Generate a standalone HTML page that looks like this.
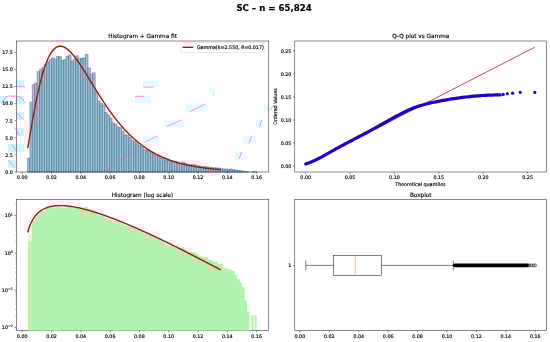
<!DOCTYPE html>
<html><head><meta charset="utf-8"><title>SC – n = 65,824</title>
<style>html,body{margin:0;padding:0;background:#fff;overflow:hidden}svg text{fill:#000;stroke:#000;stroke-width:0.15px}</style></head>
<body>
<svg width="550" height="342" viewBox="0 0 550 342" style="display:block">
<rect width="550" height="342" fill="#fff"/>
<text x="274.0" y="10.7" font-size="8.6" font-weight="bold" text-anchor="middle" font-family="DejaVu Sans, Liberation Sans, sans-serif">SC – n = 65,824</text>
<g id="ax1">
<g fill="#a4cfe4" stroke="#144664" stroke-opacity="0.38" stroke-width="1.3">
<rect x="27.61" y="158.34" width="2.41" height="13.66"/>
<rect x="30.02" y="102.33" width="2.41" height="69.67"/>
<rect x="32.43" y="84.58" width="2.41" height="87.42"/>
<rect x="34.84" y="83.21" width="2.41" height="88.79"/>
<rect x="37.25" y="71.60" width="2.41" height="100.40"/>
<rect x="39.66" y="69.55" width="2.41" height="102.45"/>
<rect x="42.07" y="67.50" width="2.41" height="104.50"/>
<rect x="44.48" y="64.77" width="2.41" height="107.23"/>
<rect x="46.89" y="62.04" width="2.41" height="109.96"/>
<rect x="49.30" y="59.65" width="2.41" height="112.35"/>
<rect x="51.71" y="57.94" width="2.41" height="114.06"/>
<rect x="54.12" y="59.30" width="2.41" height="112.70"/>
<rect x="56.53" y="56.57" width="2.41" height="115.43"/>
<rect x="58.94" y="56.91" width="2.41" height="115.09"/>
<rect x="61.35" y="60.67" width="2.41" height="111.33"/>
<rect x="63.76" y="59.65" width="2.41" height="112.35"/>
<rect x="66.17" y="56.57" width="2.41" height="115.43"/>
<rect x="68.58" y="55.21" width="2.41" height="116.79"/>
<rect x="70.99" y="61.35" width="2.41" height="110.65"/>
<rect x="73.40" y="59.30" width="2.41" height="112.70"/>
<rect x="75.82" y="55.89" width="2.41" height="116.11"/>
<rect x="78.23" y="58.62" width="2.41" height="113.38"/>
<rect x="80.64" y="58.62" width="2.41" height="113.38"/>
<rect x="83.05" y="57.94" width="2.41" height="114.06"/>
<rect x="85.46" y="54.52" width="2.41" height="117.48"/>
<rect x="87.87" y="68.18" width="2.41" height="103.82"/>
<rect x="90.28" y="74.33" width="2.41" height="97.67"/>
<rect x="92.69" y="72.97" width="2.41" height="99.03"/>
<rect x="95.10" y="92.09" width="2.41" height="79.91"/>
<rect x="97.51" y="101.31" width="2.41" height="70.69"/>
<rect x="99.92" y="103.44" width="2.41" height="68.56"/>
<rect x="102.33" y="105.30" width="2.41" height="66.70"/>
<rect x="104.74" y="112.66" width="2.41" height="59.34"/>
<rect x="107.15" y="115.07" width="2.41" height="56.93"/>
<rect x="109.56" y="118.33" width="2.41" height="53.67"/>
<rect x="111.97" y="122.94" width="2.41" height="49.06"/>
<rect x="114.38" y="124.23" width="2.41" height="47.77"/>
<rect x="116.79" y="127.04" width="2.41" height="44.96"/>
<rect x="119.20" y="127.79" width="2.41" height="44.21"/>
<rect x="121.61" y="131.41" width="2.41" height="40.59"/>
<rect x="124.02" y="134.97" width="2.41" height="37.03"/>
<rect x="126.43" y="135.57" width="2.41" height="36.43"/>
<rect x="128.85" y="137.57" width="2.41" height="34.43"/>
<rect x="131.26" y="140.60" width="2.41" height="31.40"/>
<rect x="133.67" y="141.87" width="2.41" height="30.13"/>
<rect x="136.08" y="143.77" width="2.41" height="28.23"/>
<rect x="138.49" y="145.72" width="2.41" height="26.28"/>
<rect x="140.90" y="146.97" width="2.41" height="25.03"/>
<rect x="143.31" y="149.66" width="2.41" height="22.34"/>
<rect x="145.72" y="150.26" width="2.41" height="21.74"/>
<rect x="148.13" y="151.17" width="2.41" height="20.83"/>
<rect x="150.54" y="152.62" width="2.41" height="19.38"/>
<rect x="152.95" y="153.84" width="2.41" height="18.16"/>
<rect x="155.36" y="155.06" width="2.41" height="16.94"/>
<rect x="157.77" y="156.10" width="2.41" height="15.90"/>
<rect x="160.18" y="157.94" width="2.41" height="14.06"/>
<rect x="162.59" y="158.38" width="2.41" height="13.62"/>
<rect x="165.00" y="160.00" width="2.41" height="12.00"/>
<rect x="167.41" y="160.55" width="2.41" height="11.45"/>
<rect x="169.82" y="161.64" width="2.41" height="10.36"/>
<rect x="172.23" y="161.56" width="2.41" height="10.44"/>
<rect x="174.64" y="161.52" width="2.41" height="10.48"/>
<rect x="177.05" y="163.02" width="2.41" height="8.98"/>
<rect x="179.47" y="163.13" width="2.41" height="8.87"/>
<rect x="181.88" y="162.23" width="2.41" height="9.77"/>
<rect x="184.29" y="163.41" width="2.41" height="8.59"/>
<rect x="186.70" y="164.88" width="2.41" height="7.12"/>
<rect x="189.11" y="164.72" width="2.41" height="7.28"/>
<rect x="191.52" y="164.85" width="2.41" height="7.15"/>
<rect x="193.93" y="165.00" width="2.41" height="7.00"/>
<rect x="196.34" y="165.77" width="2.41" height="6.23"/>
<rect x="198.75" y="166.33" width="2.41" height="5.67"/>
<rect x="201.16" y="166.71" width="2.41" height="5.29"/>
<rect x="203.57" y="166.63" width="2.41" height="5.37"/>
<rect x="205.98" y="167.03" width="2.41" height="4.97"/>
<rect x="208.39" y="167.51" width="2.41" height="4.49"/>
<rect x="210.80" y="167.70" width="2.41" height="4.30"/>
<rect x="213.21" y="168.00" width="2.41" height="4.00"/>
<rect x="215.62" y="168.03" width="2.41" height="3.97"/>
<rect x="218.03" y="168.51" width="2.41" height="3.49"/>
<rect x="220.44" y="168.53" width="2.41" height="3.47"/>
<rect x="222.85" y="169.23" width="2.41" height="2.77"/>
<rect x="225.26" y="169.40" width="2.41" height="2.60"/>
<rect x="227.67" y="169.54" width="2.41" height="2.46"/>
<rect x="230.08" y="169.67" width="2.41" height="2.33"/>
<rect x="232.50" y="169.79" width="2.41" height="2.21"/>
<rect x="234.91" y="170.24" width="2.41" height="1.76"/>
<rect x="237.32" y="170.66" width="2.41" height="1.34"/>
<rect x="239.73" y="170.91" width="2.41" height="1.09"/>
<rect x="242.14" y="171.19" width="2.41" height="0.81"/>
<rect x="244.55" y="171.64" width="2.41" height="0.36"/>
<rect x="246.96" y="171.82" width="2.41" height="0.18"/>
<rect x="251.78" y="171.85" width="2.41" height="0.15"/>
<rect x="254.19" y="171.85" width="2.41" height="0.15"/>
</g>
<g>
<rect x="24" y="120" width="8" height="8" fill="rgb(19,0,0)" style="mix-blend-mode:plus-lighter"/>
<rect x="24" y="120" width="8" height="8" fill="rgb(255,245,251)" style="mix-blend-mode:multiply"/>
<rect x="24" y="128" width="8" height="8" fill="rgb(33,0,0)" style="mix-blend-mode:plus-lighter"/>
<rect x="24" y="128" width="8" height="8" fill="rgb(255,237,247)" style="mix-blend-mode:multiply"/>
<rect x="24" y="136" width="8" height="8" fill="rgb(33,0,0)" style="mix-blend-mode:plus-lighter"/>
<rect x="24" y="136" width="8" height="8" fill="rgb(255,237,247)" style="mix-blend-mode:multiply"/>
<rect x="24" y="144" width="8" height="8" fill="rgb(17,0,0)" style="mix-blend-mode:plus-lighter"/>
<rect x="24" y="144" width="8" height="8" fill="rgb(255,246,251)" style="mix-blend-mode:multiply"/>
<rect x="32" y="80" width="8" height="8" fill="rgb(18,0,0)" style="mix-blend-mode:plus-lighter"/>
<rect x="32" y="80" width="8" height="8" fill="rgb(255,245,251)" style="mix-blend-mode:multiply"/>
<rect x="32" y="88" width="8" height="8" fill="rgb(33,0,0)" style="mix-blend-mode:plus-lighter"/>
<rect x="32" y="88" width="8" height="8" fill="rgb(255,237,247)" style="mix-blend-mode:multiply"/>
<rect x="32" y="96" width="8" height="8" fill="rgb(33,0,0)" style="mix-blend-mode:plus-lighter"/>
<rect x="32" y="96" width="8" height="8" fill="rgb(255,237,247)" style="mix-blend-mode:multiply"/>
<rect x="32" y="104" width="8" height="8" fill="rgb(34,0,0)" style="mix-blend-mode:plus-lighter"/>
<rect x="32" y="104" width="8" height="8" fill="rgb(255,236,247)" style="mix-blend-mode:multiply"/>
<rect x="32" y="112" width="8" height="8" fill="rgb(33,0,0)" style="mix-blend-mode:plus-lighter"/>
<rect x="32" y="112" width="8" height="8" fill="rgb(255,237,247)" style="mix-blend-mode:multiply"/>
<rect x="32" y="120" width="8" height="8" fill="rgb(14,0,0)" style="mix-blend-mode:plus-lighter"/>
<rect x="32" y="120" width="8" height="8" fill="rgb(255,247,252)" style="mix-blend-mode:multiply"/>
<rect x="40" y="56" width="8" height="8" fill="rgb(24,0,0)" style="mix-blend-mode:plus-lighter"/>
<rect x="40" y="56" width="8" height="8" fill="rgb(255,242,249)" style="mix-blend-mode:multiply"/>
<rect x="40" y="64" width="8" height="8" fill="rgb(34,0,0)" style="mix-blend-mode:plus-lighter"/>
<rect x="40" y="64" width="8" height="8" fill="rgb(255,236,247)" style="mix-blend-mode:multiply"/>
<rect x="40" y="72" width="8" height="8" fill="rgb(35,0,0)" style="mix-blend-mode:plus-lighter"/>
<rect x="40" y="72" width="8" height="8" fill="rgb(255,236,247)" style="mix-blend-mode:multiply"/>
<rect x="40" y="80" width="8" height="8" fill="rgb(15,0,0)" style="mix-blend-mode:plus-lighter"/>
<rect x="40" y="80" width="8" height="8" fill="rgb(255,247,251)" style="mix-blend-mode:multiply"/>
<rect x="48" y="40" width="8" height="8" fill="rgb(4,0,0)" style="mix-blend-mode:plus-lighter"/>
<rect x="48" y="40" width="8" height="8" fill="rgb(255,253,254)" style="mix-blend-mode:multiply"/>
<rect x="48" y="48" width="8" height="8" fill="rgb(38,0,0)" style="mix-blend-mode:plus-lighter"/>
<rect x="48" y="48" width="8" height="8" fill="rgb(255,234,246)" style="mix-blend-mode:multiply"/>
<rect x="48" y="56" width="8" height="8" fill="rgb(12,0,0)" style="mix-blend-mode:plus-lighter"/>
<rect x="48" y="56" width="8" height="8" fill="rgb(255,248,252)" style="mix-blend-mode:multiply"/>
<rect x="56" y="40" width="8" height="8" fill="rgb(34,0,0)" style="mix-blend-mode:plus-lighter"/>
<rect x="56" y="40" width="8" height="8" fill="rgb(255,236,247)" style="mix-blend-mode:multiply"/>
<rect x="64" y="40" width="8" height="8" fill="rgb(8,0,0)" style="mix-blend-mode:plus-lighter"/>
<rect x="64" y="40" width="8" height="8" fill="rgb(255,251,253)" style="mix-blend-mode:multiply"/>
<rect x="64" y="48" width="8" height="8" fill="rgb(35,0,0)" style="mix-blend-mode:plus-lighter"/>
<rect x="64" y="48" width="8" height="8" fill="rgb(255,236,247)" style="mix-blend-mode:multiply"/>
<rect x="72" y="48" width="8" height="8" fill="rgb(12,0,0)" style="mix-blend-mode:plus-lighter"/>
<rect x="72" y="48" width="8" height="8" fill="rgb(255,249,252)" style="mix-blend-mode:multiply"/>
<rect x="72" y="56" width="8" height="8" fill="rgb(38,0,0)" style="mix-blend-mode:plus-lighter"/>
<rect x="72" y="56" width="8" height="8" fill="rgb(255,234,246)" style="mix-blend-mode:multiply"/>
<rect x="80" y="64" width="8" height="8" fill="rgb(36,0,0)" style="mix-blend-mode:plus-lighter"/>
<rect x="80" y="64" width="8" height="8" fill="rgb(255,235,246)" style="mix-blend-mode:multiply"/>
<rect x="80" y="72" width="8" height="8" fill="rgb(24,0,0)" style="mix-blend-mode:plus-lighter"/>
<rect x="80" y="72" width="8" height="8" fill="rgb(255,242,249)" style="mix-blend-mode:multiply"/>
<rect x="88" y="72" width="8" height="8" fill="rgb(15,0,0)" style="mix-blend-mode:plus-lighter"/>
<rect x="88" y="72" width="8" height="8" fill="rgb(255,247,251)" style="mix-blend-mode:multiply"/>
<rect x="88" y="80" width="8" height="8" fill="rgb(38,0,0)" style="mix-blend-mode:plus-lighter"/>
<rect x="88" y="80" width="8" height="8" fill="rgb(255,234,246)" style="mix-blend-mode:multiply"/>
<rect x="88" y="88" width="8" height="8" fill="rgb(10,0,0)" style="mix-blend-mode:plus-lighter"/>
<rect x="88" y="88" width="8" height="8" fill="rgb(255,249,253)" style="mix-blend-mode:multiply"/>
<rect x="96" y="88" width="8" height="8" fill="rgb(28,0,0)" style="mix-blend-mode:plus-lighter"/>
<rect x="96" y="88" width="8" height="8" fill="rgb(255,239,248)" style="mix-blend-mode:multiply"/>
<rect x="96" y="96" width="8" height="8" fill="rgb(33,0,0)" style="mix-blend-mode:plus-lighter"/>
<rect x="96" y="96" width="8" height="8" fill="rgb(255,237,247)" style="mix-blend-mode:multiply"/>
<rect x="104" y="96" width="8" height="8" fill="rgb(6,0,0)" style="mix-blend-mode:plus-lighter"/>
<rect x="104" y="96" width="8" height="8" fill="rgb(255,252,254)" style="mix-blend-mode:multiply"/>
<rect x="104" y="104" width="8" height="8" fill="rgb(38,0,0)" style="mix-blend-mode:plus-lighter"/>
<rect x="104" y="104" width="8" height="8" fill="rgb(255,234,246)" style="mix-blend-mode:multiply"/>
<rect x="104" y="112" width="8" height="8" fill="rgb(10,0,0)" style="mix-blend-mode:plus-lighter"/>
<rect x="104" y="112" width="8" height="8" fill="rgb(255,249,253)" style="mix-blend-mode:multiply"/>
<rect x="112" y="112" width="8" height="8" fill="rgb(30,0,0)" style="mix-blend-mode:plus-lighter"/>
<rect x="112" y="112" width="8" height="8" fill="rgb(255,238,248)" style="mix-blend-mode:multiply"/>
<rect x="112" y="120" width="8" height="8" fill="rgb(23,0,0)" style="mix-blend-mode:plus-lighter"/>
<rect x="112" y="120" width="8" height="8" fill="rgb(255,242,250)" style="mix-blend-mode:multiply"/>
<rect x="120" y="120" width="8" height="8" fill="rgb(21,0,0)" style="mix-blend-mode:plus-lighter"/>
<rect x="120" y="120" width="8" height="8" fill="rgb(255,244,250)" style="mix-blend-mode:multiply"/>
<rect x="120" y="128" width="8" height="8" fill="rgb(27,0,0)" style="mix-blend-mode:plus-lighter"/>
<rect x="120" y="128" width="8" height="8" fill="rgb(255,240,249)" style="mix-blend-mode:multiply"/>
<rect x="128" y="128" width="8" height="8" fill="rgb(18,0,0)" style="mix-blend-mode:plus-lighter"/>
<rect x="128" y="128" width="8" height="8" fill="rgb(255,245,251)" style="mix-blend-mode:multiply"/>
<rect x="128" y="136" width="8" height="8" fill="rgb(27,0,0)" style="mix-blend-mode:plus-lighter"/>
<rect x="128" y="136" width="8" height="8" fill="rgb(255,240,249)" style="mix-blend-mode:multiply"/>
<rect x="136" y="136" width="8" height="8" fill="rgb(23,0,0)" style="mix-blend-mode:plus-lighter"/>
<rect x="136" y="136" width="8" height="8" fill="rgb(255,242,250)" style="mix-blend-mode:multiply"/>
<rect x="136" y="144" width="8" height="8" fill="rgb(18,0,0)" style="mix-blend-mode:plus-lighter"/>
<rect x="136" y="144" width="8" height="8" fill="rgb(255,245,251)" style="mix-blend-mode:multiply"/>
<rect x="144" y="144" width="8" height="8" fill="rgb(38,0,0)" style="mix-blend-mode:plus-lighter"/>
<rect x="144" y="144" width="8" height="8" fill="rgb(255,234,246)" style="mix-blend-mode:multiply"/>
<rect x="152" y="152" width="8" height="8" fill="rgb(36,0,0)" style="mix-blend-mode:plus-lighter"/>
<rect x="152" y="152" width="8" height="8" fill="rgb(255,235,247)" style="mix-blend-mode:multiply"/>
<rect x="160" y="152" width="8" height="8" fill="rgb(36,0,0)" style="mix-blend-mode:plus-lighter"/>
<rect x="160" y="152" width="8" height="8" fill="rgb(255,235,246)" style="mix-blend-mode:multiply"/>
<rect x="168" y="152" width="8" height="8" fill="rgb(6,0,0)" style="mix-blend-mode:plus-lighter"/>
<rect x="168" y="152" width="8" height="8" fill="rgb(255,252,254)" style="mix-blend-mode:multiply"/>
<rect x="168" y="160" width="8" height="8" fill="rgb(28,0,0)" style="mix-blend-mode:plus-lighter"/>
<rect x="168" y="160" width="8" height="8" fill="rgb(255,240,248)" style="mix-blend-mode:multiply"/>
<rect x="176" y="160" width="8" height="8" fill="rgb(34,0,0)" style="mix-blend-mode:plus-lighter"/>
<rect x="176" y="160" width="8" height="8" fill="rgb(255,236,247)" style="mix-blend-mode:multiply"/>
<rect x="184" y="160" width="8" height="8" fill="rgb(32,0,0)" style="mix-blend-mode:plus-lighter"/>
<rect x="184" y="160" width="8" height="8" fill="rgb(255,237,247)" style="mix-blend-mode:multiply"/>
<rect x="192" y="160" width="8" height="8" fill="rgb(34,0,0)" style="mix-blend-mode:plus-lighter"/>
<rect x="192" y="160" width="8" height="8" fill="rgb(255,236,247)" style="mix-blend-mode:multiply"/>
<rect x="200" y="160" width="8" height="8" fill="rgb(20,0,0)" style="mix-blend-mode:plus-lighter"/>
<rect x="200" y="160" width="8" height="8" fill="rgb(255,244,250)" style="mix-blend-mode:multiply"/>
<rect x="200" y="168" width="8" height="8" fill="rgb(12,0,0)" style="mix-blend-mode:plus-lighter"/>
<rect x="200" y="168" width="8" height="8" fill="rgb(255,248,252)" style="mix-blend-mode:multiply"/>
<rect x="208" y="168" width="8" height="8" fill="rgb(34,0,0)" style="mix-blend-mode:plus-lighter"/>
<rect x="208" y="168" width="8" height="8" fill="rgb(255,236,247)" style="mix-blend-mode:multiply"/>
<rect x="216" y="168" width="8" height="8" fill="rgb(20,0,0)" style="mix-blend-mode:plus-lighter"/>
<rect x="216" y="168" width="8" height="8" fill="rgb(255,244,250)" style="mix-blend-mode:multiply"/>
</g>
<polyline points="27.77,148.01 28.74,142.42 29.71,136.76 30.68,131.10 31.65,125.50 32.62,119.98 33.59,114.60 34.56,109.37 35.53,104.31 36.50,99.44 37.47,94.78 38.44,90.33 39.41,86.11 40.38,82.11 41.35,78.34 42.32,74.80 43.29,71.48 44.26,68.40 45.23,65.54 46.20,62.90 47.17,60.49 48.14,58.28 49.11,56.28 50.08,54.48 51.05,52.88 52.02,51.47 52.99,50.25 53.96,49.20 54.94,48.32 55.91,47.60 56.88,47.04 57.85,46.63 58.82,46.36 59.79,46.23 60.76,46.23 61.73,46.35 62.70,46.59 63.67,46.94 64.64,47.39 65.61,47.95 66.58,48.59 67.55,49.33 68.52,50.14 69.49,51.04 70.46,52.00 71.43,53.04 72.40,54.13 73.37,55.28 74.34,56.49 75.31,57.74 76.28,59.04 77.25,60.38 78.22,61.76 79.19,63.17 80.16,64.61 81.13,66.08 82.10,67.57 83.07,69.08 84.04,70.61 85.01,72.16 85.98,73.71 86.95,75.28 87.92,76.86 88.90,78.44 89.87,80.03 90.84,81.62 91.81,83.21 92.78,84.80 93.75,86.38 94.72,87.96 95.69,89.53 96.66,91.10 97.63,92.65 98.60,94.20 99.57,95.73 100.54,97.26 101.51,98.77 102.48,100.26 103.45,101.75 104.42,103.21 105.39,104.66 106.36,106.10 107.33,107.51 108.30,108.91 109.27,110.29 110.24,111.65 111.21,113.00 112.18,114.32 113.15,115.62 114.12,116.91 115.09,118.17 116.06,119.42 117.03,120.64 118.00,121.85 118.97,123.03 119.94,124.19 120.91,125.33 121.88,126.46 122.86,127.56 123.83,128.64 124.80,129.70 125.77,130.74 126.74,131.76 127.71,132.76 128.68,133.74 129.65,134.70 130.62,135.64 131.59,136.56 132.56,137.47 133.53,138.35 134.50,139.22 135.47,140.06 136.44,140.89 137.41,141.70 138.38,142.49 139.35,143.27 140.32,144.02 141.29,144.76 142.26,145.49 143.23,146.19 144.20,146.89 145.17,147.56 146.14,148.22 147.11,148.86 148.08,149.49 149.05,150.10 150.02,150.70 150.99,151.28 151.96,151.85 152.93,152.41 153.90,152.95 154.87,153.48 155.84,153.99 156.82,154.49 157.79,154.98 158.76,155.46 159.73,155.93 160.70,156.38 161.67,156.82 162.64,157.25 163.61,157.67 164.58,158.08 165.55,158.48 166.52,158.86 167.49,159.24 168.46,159.61 169.43,159.96 170.40,160.31 171.37,160.65 172.34,160.98 173.31,161.30 174.28,161.61 175.25,161.91 176.22,162.21 177.19,162.50 178.16,162.78 179.13,163.05 180.10,163.31 181.07,163.57 182.04,163.82 183.01,164.06 183.98,164.30 184.95,164.53 185.92,164.75 186.89,164.97 187.86,165.18 188.83,165.38 189.80,165.58 190.78,165.77 191.75,165.96 192.72,166.14 193.69,166.32 194.66,166.49 195.63,166.66 196.60,166.82 197.57,166.98 198.54,167.13 199.51,167.28 200.48,167.42 201.45,167.56 202.42,167.70 203.39,167.83 204.36,167.96 205.33,168.08 206.30,168.21 207.27,168.32 208.24,168.44 209.21,168.55 210.18,168.65 211.15,168.76 212.12,168.86 213.09,168.96 214.06,169.05 215.03,169.14 216.00,169.23 216.97,169.32 217.94,169.40 218.91,169.48 219.88,169.56 220.85,169.64" fill="none" stroke="#653010" stroke-width="1.35" stroke-linejoin="round" stroke-linecap="butt"/>
<rect x="16.30" y="41.00" width="252.50" height="131.00" fill="none" stroke="#000" stroke-width="0.46"/>
<line x1="22.20" y1="172.00" x2="22.20" y2="173.70" stroke="#000" stroke-width="0.46"/>
<text x="22.20" y="179.00" font-size="4.8" text-anchor="middle" font-family="DejaVu Sans, Liberation Sans, sans-serif">0.00</text>
<line x1="51.50" y1="172.00" x2="51.50" y2="173.70" stroke="#000" stroke-width="0.46"/>
<text x="51.50" y="179.00" font-size="4.8" text-anchor="middle" font-family="DejaVu Sans, Liberation Sans, sans-serif">0.02</text>
<line x1="80.80" y1="172.00" x2="80.80" y2="173.70" stroke="#000" stroke-width="0.46"/>
<text x="80.80" y="179.00" font-size="4.8" text-anchor="middle" font-family="DejaVu Sans, Liberation Sans, sans-serif">0.04</text>
<line x1="110.10" y1="172.00" x2="110.10" y2="173.70" stroke="#000" stroke-width="0.46"/>
<text x="110.10" y="179.00" font-size="4.8" text-anchor="middle" font-family="DejaVu Sans, Liberation Sans, sans-serif">0.06</text>
<line x1="139.40" y1="172.00" x2="139.40" y2="173.70" stroke="#000" stroke-width="0.46"/>
<text x="139.40" y="179.00" font-size="4.8" text-anchor="middle" font-family="DejaVu Sans, Liberation Sans, sans-serif">0.08</text>
<line x1="168.70" y1="172.00" x2="168.70" y2="173.70" stroke="#000" stroke-width="0.46"/>
<text x="168.70" y="179.00" font-size="4.8" text-anchor="middle" font-family="DejaVu Sans, Liberation Sans, sans-serif">0.10</text>
<line x1="198.00" y1="172.00" x2="198.00" y2="173.70" stroke="#000" stroke-width="0.46"/>
<text x="198.00" y="179.00" font-size="4.8" text-anchor="middle" font-family="DejaVu Sans, Liberation Sans, sans-serif">0.12</text>
<line x1="227.30" y1="172.00" x2="227.30" y2="173.70" stroke="#000" stroke-width="0.46"/>
<text x="227.30" y="179.00" font-size="4.8" text-anchor="middle" font-family="DejaVu Sans, Liberation Sans, sans-serif">0.14</text>
<line x1="256.60" y1="172.00" x2="256.60" y2="173.70" stroke="#000" stroke-width="0.46"/>
<text x="256.60" y="179.00" font-size="4.8" text-anchor="middle" font-family="DejaVu Sans, Liberation Sans, sans-serif">0.16</text>
<line x1="14.60" y1="172.00" x2="16.30" y2="172.00" stroke="#000" stroke-width="0.46"/>
<text x="12.90" y="173.75" font-size="4.8" text-anchor="end" font-family="DejaVu Sans, Liberation Sans, sans-serif">0.0</text>
<line x1="14.60" y1="154.93" x2="16.30" y2="154.93" stroke="#000" stroke-width="0.46"/>
<text x="12.90" y="156.68" font-size="4.8" text-anchor="end" font-family="DejaVu Sans, Liberation Sans, sans-serif">2.5</text>
<line x1="14.60" y1="137.85" x2="16.30" y2="137.85" stroke="#000" stroke-width="0.46"/>
<text x="12.90" y="139.60" font-size="4.8" text-anchor="end" font-family="DejaVu Sans, Liberation Sans, sans-serif">5.0</text>
<line x1="14.60" y1="120.78" x2="16.30" y2="120.78" stroke="#000" stroke-width="0.46"/>
<text x="12.90" y="122.53" font-size="4.8" text-anchor="end" font-family="DejaVu Sans, Liberation Sans, sans-serif">7.5</text>
<line x1="14.60" y1="103.70" x2="16.30" y2="103.70" stroke="#000" stroke-width="0.46"/>
<text x="12.90" y="105.45" font-size="4.8" text-anchor="end" font-family="DejaVu Sans, Liberation Sans, sans-serif">10.0</text>
<line x1="14.60" y1="86.62" x2="16.30" y2="86.62" stroke="#000" stroke-width="0.46"/>
<text x="12.90" y="88.38" font-size="4.8" text-anchor="end" font-family="DejaVu Sans, Liberation Sans, sans-serif">12.5</text>
<line x1="14.60" y1="69.55" x2="16.30" y2="69.55" stroke="#000" stroke-width="0.46"/>
<text x="12.90" y="71.30" font-size="4.8" text-anchor="end" font-family="DejaVu Sans, Liberation Sans, sans-serif">15.0</text>
<line x1="14.60" y1="52.47" x2="16.30" y2="52.47" stroke="#000" stroke-width="0.46"/>
<text x="12.90" y="54.22" font-size="4.8" text-anchor="end" font-family="DejaVu Sans, Liberation Sans, sans-serif">17.5</text>
<text x="142.55" y="38.10" font-size="5.75" text-anchor="middle" font-family="DejaVu Sans, Liberation Sans, sans-serif">Histogram + Gamma fit</text>
<rect x="180.6" y="42.6" width="84.6" height="10" rx="1" fill="#fff" fill-opacity="0.8" stroke="#ccc" stroke-width="0.45"/>
<g>
<rect x="176" y="40" width="8" height="8" fill="rgb(6,0,0)" style="mix-blend-mode:plus-lighter"/>
<rect x="176" y="40" width="8" height="8" fill="rgb(255,252,254)" style="mix-blend-mode:multiply"/>
<rect x="184" y="40" width="8" height="8" fill="rgb(33,0,0)" style="mix-blend-mode:plus-lighter"/>
<rect x="184" y="40" width="8" height="8" fill="rgb(255,237,247)" style="mix-blend-mode:multiply"/>
<rect x="192" y="40" width="8" height="8" fill="rgb(5,0,0)" style="mix-blend-mode:plus-lighter"/>
<rect x="192" y="40" width="8" height="8" fill="rgb(255,252,254)" style="mix-blend-mode:multiply"/>
</g>
<line x1="182.5" y1="47.3" x2="193.3" y2="47.3" stroke="#653010" stroke-width="1.35"/>
<text x="196.9" y="49.0" font-size="4.8" font-family="DejaVu Sans, Liberation Sans, sans-serif">Gamma(k=2.550, θ=0.017)</text>
</g>
<g id="ax2">
<g>
<rect x="424" y="96" width="8" height="8" fill="rgb(9,0,0)" style="mix-blend-mode:plus-lighter"/>
<rect x="424" y="96" width="8" height="8" fill="rgb(255,250,253)" style="mix-blend-mode:multiply"/>
<rect x="432" y="96" width="8" height="8" fill="rgb(16,0,0)" style="mix-blend-mode:plus-lighter"/>
<rect x="432" y="96" width="8" height="8" fill="rgb(255,246,251)" style="mix-blend-mode:multiply"/>
<rect x="440" y="88" width="8" height="8" fill="rgb(17,0,0)" style="mix-blend-mode:plus-lighter"/>
<rect x="440" y="88" width="8" height="8" fill="rgb(255,245,251)" style="mix-blend-mode:multiply"/>
<rect x="448" y="88" width="8" height="8" fill="rgb(15,0,0)" style="mix-blend-mode:plus-lighter"/>
<rect x="448" y="88" width="8" height="8" fill="rgb(255,247,251)" style="mix-blend-mode:multiply"/>
<rect x="456" y="80" width="8" height="8" fill="rgb(17,0,0)" style="mix-blend-mode:plus-lighter"/>
<rect x="456" y="80" width="8" height="8" fill="rgb(255,245,251)" style="mix-blend-mode:multiply"/>
<rect x="464" y="80" width="8" height="8" fill="rgb(14,0,0)" style="mix-blend-mode:plus-lighter"/>
<rect x="464" y="80" width="8" height="8" fill="rgb(255,247,252)" style="mix-blend-mode:multiply"/>
<rect x="472" y="72" width="8" height="8" fill="rgb(17,0,0)" style="mix-blend-mode:plus-lighter"/>
<rect x="472" y="72" width="8" height="8" fill="rgb(255,246,251)" style="mix-blend-mode:multiply"/>
<rect x="480" y="64" width="8" height="8" fill="rgb(3,0,0)" style="mix-blend-mode:plus-lighter"/>
<rect x="480" y="64" width="8" height="8" fill="rgb(255,253,254)" style="mix-blend-mode:multiply"/>
<rect x="480" y="72" width="8" height="8" fill="rgb(14,0,0)" style="mix-blend-mode:plus-lighter"/>
<rect x="480" y="72" width="8" height="8" fill="rgb(255,247,252)" style="mix-blend-mode:multiply"/>
<rect x="488" y="64" width="8" height="8" fill="rgb(17,0,0)" style="mix-blend-mode:plus-lighter"/>
<rect x="488" y="64" width="8" height="8" fill="rgb(255,245,251)" style="mix-blend-mode:multiply"/>
<rect x="496" y="56" width="8" height="8" fill="rgb(4,0,0)" style="mix-blend-mode:plus-lighter"/>
<rect x="496" y="56" width="8" height="8" fill="rgb(255,253,254)" style="mix-blend-mode:multiply"/>
<rect x="496" y="64" width="8" height="8" fill="rgb(13,0,0)" style="mix-blend-mode:plus-lighter"/>
<rect x="496" y="64" width="8" height="8" fill="rgb(255,248,252)" style="mix-blend-mode:multiply"/>
<rect x="504" y="56" width="8" height="8" fill="rgb(17,0,0)" style="mix-blend-mode:plus-lighter"/>
<rect x="504" y="56" width="8" height="8" fill="rgb(255,245,251)" style="mix-blend-mode:multiply"/>
<rect x="512" y="48" width="8" height="8" fill="rgb(5,0,0)" style="mix-blend-mode:plus-lighter"/>
<rect x="512" y="48" width="8" height="8" fill="rgb(255,252,254)" style="mix-blend-mode:multiply"/>
<rect x="512" y="56" width="8" height="8" fill="rgb(12,0,0)" style="mix-blend-mode:plus-lighter"/>
<rect x="512" y="56" width="8" height="8" fill="rgb(255,248,252)" style="mix-blend-mode:multiply"/>
<rect x="520" y="48" width="8" height="8" fill="rgb(17,0,0)" style="mix-blend-mode:plus-lighter"/>
<rect x="520" y="48" width="8" height="8" fill="rgb(255,245,251)" style="mix-blend-mode:multiply"/>
<rect x="528" y="40" width="8" height="8" fill="rgb(3,0,0)" style="mix-blend-mode:plus-lighter"/>
<rect x="528" y="40" width="8" height="8" fill="rgb(255,253,254)" style="mix-blend-mode:multiply"/>
<rect x="528" y="48" width="8" height="8" fill="rgb(11,0,0)" style="mix-blend-mode:plus-lighter"/>
<rect x="528" y="48" width="8" height="8" fill="rgb(255,249,252)" style="mix-blend-mode:multiply"/>
</g>
<line x1="306.2" y1="164.6" x2="534.7" y2="47.2" stroke="#653010" stroke-width="0.72"/>
<polyline points="305.7,164.0 307.5,163.4 309.3,162.8 311.1,162.1 312.8,161.3 314.6,160.5 316.4,159.6 318.2,158.7 320.0,157.8 321.8,156.8 323.5,155.8 325.3,154.8 327.1,153.8 328.9,152.8 330.7,151.8 332.5,150.8 334.3,149.8 336.0,148.8 337.8,147.9 339.6,146.9 341.4,145.9 343.2,145.0 345.0,144.0 346.7,143.1 348.5,142.1 350.3,141.2 352.1,140.3 353.9,139.3 355.7,138.4 357.4,137.5 359.2,136.5 361.0,135.6 362.8,134.7 364.6,133.7 366.4,132.8 368.2,131.8 369.9,130.9 371.7,129.9 373.5,128.9 375.3,128.0 377.1,127.0 378.9,126.0 380.6,125.0 382.4,124.0 384.2,123.0 386.0,122.0 387.8,121.0 389.6,119.9 391.4,118.9 393.1,118.0 394.9,117.0 396.7,116.0 398.5,115.1 400.3,114.1 402.1,113.2 403.8,112.3 405.6,111.5 407.4,110.6 409.2,109.8 411.0,109.1 412.8,108.3 414.5,107.6 416.3,107.0 418.1,106.4 419.9,105.8 421.7,105.2 423.5,104.7 425.3,104.2 427.0,103.8 428.8,103.3 430.6,102.9 432.4,102.5 434.2,102.1 436.0,101.8 437.7,101.4 439.5,101.1 441.3,100.7 443.1,100.4 444.9,100.1 446.7,99.8 448.5,99.5 450.2,99.2 452.0,98.9 453.8,98.6 455.6,98.4 457.4,98.1 459.2,97.9 460.9,97.6 462.7,97.4 464.5,97.2 466.3,97.0 468.1,96.8 469.9,96.6 471.6,96.4 473.4,96.2 475.2,96.1 477.0,95.9 478.8,95.8 480.6,95.6 482.4,95.5 484.1,95.4 485.9,95.3 487.7,95.2 489.5,95.1 491.3,95.0 493.1,95.0 494.8,94.9 496.6,94.9 498.4,94.9 500.2,94.9" fill="none" stroke="#2600c8" stroke-width="3.25" stroke-linejoin="round" stroke-linecap="round"/>
<circle cx="503.2" cy="94.4" r="1.6" fill="#2600c8"/>
<circle cx="507.3" cy="93.7" r="1.6" fill="#2600c8"/>
<circle cx="512.6" cy="93.2" r="1.6" fill="#2600c8"/>
<circle cx="520.2" cy="92.4" r="1.6" fill="#2600c8"/>
<circle cx="534.8" cy="92.4" r="1.6" fill="#2600c8"/>
<rect x="294.80" y="41.00" width="251.90" height="131.00" fill="none" stroke="#000" stroke-width="0.46"/>
<line x1="305.70" y1="172.00" x2="305.70" y2="173.70" stroke="#000" stroke-width="0.46"/>
<text x="305.70" y="179.00" font-size="4.8" text-anchor="middle" font-family="DejaVu Sans, Liberation Sans, sans-serif">0.00</text>
<line x1="350.08" y1="172.00" x2="350.08" y2="173.70" stroke="#000" stroke-width="0.46"/>
<text x="350.08" y="179.00" font-size="4.8" text-anchor="middle" font-family="DejaVu Sans, Liberation Sans, sans-serif">0.05</text>
<line x1="394.46" y1="172.00" x2="394.46" y2="173.70" stroke="#000" stroke-width="0.46"/>
<text x="394.46" y="179.00" font-size="4.8" text-anchor="middle" font-family="DejaVu Sans, Liberation Sans, sans-serif">0.10</text>
<line x1="438.84" y1="172.00" x2="438.84" y2="173.70" stroke="#000" stroke-width="0.46"/>
<text x="438.84" y="179.00" font-size="4.8" text-anchor="middle" font-family="DejaVu Sans, Liberation Sans, sans-serif">0.15</text>
<line x1="483.22" y1="172.00" x2="483.22" y2="173.70" stroke="#000" stroke-width="0.46"/>
<text x="483.22" y="179.00" font-size="4.8" text-anchor="middle" font-family="DejaVu Sans, Liberation Sans, sans-serif">0.20</text>
<line x1="527.60" y1="172.00" x2="527.60" y2="173.70" stroke="#000" stroke-width="0.46"/>
<text x="527.60" y="179.00" font-size="4.8" text-anchor="middle" font-family="DejaVu Sans, Liberation Sans, sans-serif">0.25</text>
<line x1="293.10" y1="166.00" x2="294.80" y2="166.00" stroke="#000" stroke-width="0.46"/>
<text x="291.40" y="167.75" font-size="4.8" text-anchor="end" font-family="DejaVu Sans, Liberation Sans, sans-serif">0.00</text>
<line x1="293.10" y1="143.00" x2="294.80" y2="143.00" stroke="#000" stroke-width="0.46"/>
<text x="291.40" y="144.75" font-size="4.8" text-anchor="end" font-family="DejaVu Sans, Liberation Sans, sans-serif">0.05</text>
<line x1="293.10" y1="120.00" x2="294.80" y2="120.00" stroke="#000" stroke-width="0.46"/>
<text x="291.40" y="121.75" font-size="4.8" text-anchor="end" font-family="DejaVu Sans, Liberation Sans, sans-serif">0.10</text>
<line x1="293.10" y1="97.00" x2="294.80" y2="97.00" stroke="#000" stroke-width="0.46"/>
<text x="291.40" y="98.75" font-size="4.8" text-anchor="end" font-family="DejaVu Sans, Liberation Sans, sans-serif">0.15</text>
<line x1="293.10" y1="74.00" x2="294.80" y2="74.00" stroke="#000" stroke-width="0.46"/>
<text x="291.40" y="75.75" font-size="4.8" text-anchor="end" font-family="DejaVu Sans, Liberation Sans, sans-serif">0.20</text>
<line x1="293.10" y1="51.00" x2="294.80" y2="51.00" stroke="#000" stroke-width="0.46"/>
<text x="291.40" y="52.75" font-size="4.8" text-anchor="end" font-family="DejaVu Sans, Liberation Sans, sans-serif">0.25</text>
<text x="420.75" y="38.10" font-size="5.75" text-anchor="middle" font-family="DejaVu Sans, Liberation Sans, sans-serif">Q-Q plot vs Gamma</text>
<text x="420.4" y="185.9" font-size="4.8" text-anchor="middle" font-family="DejaVu Sans, Liberation Sans, sans-serif">Theoretical quantiles</text>
<text transform="translate(277.2,106.5) rotate(-90)" font-size="4.8" text-anchor="middle" font-family="DejaVu Sans, Liberation Sans, sans-serif">Ordered Values</text>
</g>
<g id="ax3">
<clipPath id="c3"><rect x="16.3" y="199.6" width="252.5" height="131.00000000000003"/></clipPath>
<rect x="27.9" y="233" width="4.0" height="8" fill="#e6f6e2"/>
<rect x="27.9" y="240.8" width="4.0" height="89.80" fill="#c6eead"/>
<path d="M31.80,330.60V220.75H34.84V330.60ZM34.84,330.60V217.02H37.25V330.60ZM37.25,330.60V214.23H39.66V330.60ZM39.66,330.60V212.09H42.07V330.60ZM42.07,330.60V210.43H44.48V330.60ZM44.48,330.60V209.14H46.89V330.60ZM46.89,330.60V208.15H49.30V330.60ZM49.30,330.60V207.44H51.71V330.60ZM51.71,330.60V207.19H54.12V330.60ZM54.12,330.60V207.39H56.53V330.60ZM56.53,330.60V207.00H58.94V330.60ZM58.94,330.60V207.05H61.35V330.60ZM61.35,330.60V207.59H63.76V330.60ZM63.76,330.60V207.44H66.17V330.60ZM66.17,330.60V207.00H68.58V330.60ZM68.58,330.60V206.81H70.99V330.60ZM70.99,330.60V207.69H73.40V330.60ZM73.40,330.60V207.39H75.82V330.60ZM75.82,330.60V206.90H78.23V330.60ZM78.23,330.60V207.29H80.64V330.60ZM80.64,330.60V207.29H83.05V330.60ZM83.05,330.60V207.19H85.46V330.60ZM85.46,330.60V206.71H87.87V330.60ZM87.87,330.60V208.72H90.28V330.60ZM90.28,330.60V209.71H92.69V330.60ZM92.69,330.60V209.48H95.10V330.60ZM95.10,330.60V212.96H97.51V330.60ZM97.51,330.60V214.94H99.92V330.60ZM99.92,330.60V215.44H102.33V330.60ZM102.33,330.60V215.88H104.74V330.60ZM104.74,330.60V217.78H107.15V330.60ZM107.15,330.60V218.45H109.56V330.60ZM109.56,330.60V219.40H111.97V330.60ZM111.97,330.60V220.86H114.38V330.60ZM114.38,330.60V221.29H116.79V330.60ZM116.79,330.60V222.27H119.20V330.60ZM119.20,330.60V222.54H121.61V330.60ZM121.61,330.60V223.93H124.02V330.60ZM124.02,330.60V225.41H126.43V330.60ZM126.43,330.60V225.68H128.85V330.60ZM128.85,330.60V226.60H131.26V330.60ZM131.26,330.60V228.09H133.67V330.60ZM133.67,330.60V228.76H136.08V330.60ZM136.08,330.60V229.81H138.49V330.60ZM138.49,330.60V230.97H140.90V330.60ZM140.90,330.60V231.76H143.31V330.60ZM143.31,330.60V233.60H145.72V330.60ZM145.72,330.60V234.04H148.13V330.60ZM148.13,330.60V234.74H150.54V330.60ZM150.54,330.60V235.91H152.95V330.60ZM152.95,330.60V236.95H155.36V330.60ZM155.36,330.60V238.09H157.77V330.60ZM157.77,330.60V239.11H160.18V330.60ZM160.18,330.60V241.10H162.59V330.60ZM162.59,330.60V241.62H165.00V330.60ZM165.00,330.60V243.68H167.41V330.60ZM167.41,330.60V244.43H169.82V330.60ZM169.82,330.60V246.05H172.23V330.60ZM172.23,330.60V245.92H174.64V330.60ZM174.64,330.60V245.86H177.05V330.60ZM177.05,330.60V248.36H179.47V330.60ZM179.47,330.60V248.56H181.88V330.60ZM181.88,330.60V247.00H184.29V330.60ZM184.29,330.60V249.08H186.70V330.60ZM186.70,330.60V252.14H189.11V330.60ZM189.11,330.60V251.77H191.52V330.60ZM191.52,330.60V252.06H193.93V330.60ZM193.93,330.60V252.39H196.34V330.60ZM196.34,330.60V254.28H198.75V330.60ZM198.75,330.60V255.82H201.16V330.60ZM201.16,330.60V256.94H203.57V330.60ZM203.57,330.60V256.69H205.98V330.60ZM205.98,330.60V257.94H208.39V330.60ZM208.39,330.60V259.60H210.80V330.60ZM210.80,330.60V260.30H213.21V330.60ZM213.21,330.60V261.47H215.62V330.60ZM215.62,330.60V261.58H218.03V330.60ZM218.03,330.60V263.68H220.44V330.60ZM220.44,330.60V263.79H222.85V330.60ZM222.85,330.60V267.41H225.26V330.60ZM225.26,330.60V268.44H227.67V330.60ZM227.67,330.60V269.32H230.08V330.60ZM230.08,330.60V270.20H232.50V330.60ZM232.50,330.60V271.08H234.91V330.60ZM234.91,330.60V274.79H237.32V330.60ZM237.32,330.60V279.22H239.73V330.60ZM239.73,330.60V282.60H242.14V330.60ZM242.14,330.60V287.29H244.55V330.60ZM244.55,330.60V300.42H246.96V330.60ZM246.96,330.60V311.68H249.37V330.60ZM251.50,330.60V315.15H253.70V330.60ZM254.60,330.60V315.15H256.60V330.60Z" fill="#b1f3b1" clip-path="url(#c3)"/>
<g>
<rect x="24" y="216" width="8" height="8" fill="rgb(14,0,0)" style="mix-blend-mode:plus-lighter"/>
<rect x="24" y="216" width="8" height="8" fill="rgb(255,247,252)" style="mix-blend-mode:multiply"/>
<rect x="24" y="224" width="8" height="8" fill="rgb(34,0,0)" style="mix-blend-mode:plus-lighter"/>
<rect x="24" y="224" width="8" height="8" fill="rgb(255,236,247)" style="mix-blend-mode:multiply"/>
<rect x="32" y="208" width="8" height="8" fill="rgb(28,0,0)" style="mix-blend-mode:plus-lighter"/>
<rect x="32" y="208" width="8" height="8" fill="rgb(255,239,248)" style="mix-blend-mode:multiply"/>
<rect x="32" y="216" width="8" height="8" fill="rgb(24,0,0)" style="mix-blend-mode:plus-lighter"/>
<rect x="32" y="216" width="8" height="8" fill="rgb(255,242,249)" style="mix-blend-mode:multiply"/>
<rect x="40" y="200" width="8" height="8" fill="rgb(9,0,0)" style="mix-blend-mode:plus-lighter"/>
<rect x="40" y="200" width="8" height="8" fill="rgb(255,250,253)" style="mix-blend-mode:multiply"/>
<rect x="40" y="208" width="8" height="8" fill="rgb(27,0,0)" style="mix-blend-mode:plus-lighter"/>
<rect x="40" y="208" width="8" height="8" fill="rgb(255,240,249)" style="mix-blend-mode:multiply"/>
<rect x="48" y="200" width="8" height="8" fill="rgb(32,0,0)" style="mix-blend-mode:plus-lighter"/>
<rect x="48" y="200" width="8" height="8" fill="rgb(255,237,247)" style="mix-blend-mode:multiply"/>
<rect x="56" y="200" width="8" height="8" fill="rgb(34,0,0)" style="mix-blend-mode:plus-lighter"/>
<rect x="56" y="200" width="8" height="8" fill="rgb(255,236,247)" style="mix-blend-mode:multiply"/>
<rect x="64" y="200" width="8" height="8" fill="rgb(32,0,0)" style="mix-blend-mode:plus-lighter"/>
<rect x="64" y="200" width="8" height="8" fill="rgb(255,237,247)" style="mix-blend-mode:multiply"/>
<rect x="72" y="200" width="8" height="8" fill="rgb(32,0,0)" style="mix-blend-mode:plus-lighter"/>
<rect x="72" y="200" width="8" height="8" fill="rgb(255,237,247)" style="mix-blend-mode:multiply"/>
<rect x="80" y="208" width="8" height="8" fill="rgb(34,0,0)" style="mix-blend-mode:plus-lighter"/>
<rect x="80" y="208" width="8" height="8" fill="rgb(255,236,247)" style="mix-blend-mode:multiply"/>
<rect x="88" y="208" width="8" height="8" fill="rgb(34,0,0)" style="mix-blend-mode:plus-lighter"/>
<rect x="88" y="208" width="8" height="8" fill="rgb(255,236,247)" style="mix-blend-mode:multiply"/>
<rect x="96" y="208" width="8" height="8" fill="rgb(34,0,0)" style="mix-blend-mode:plus-lighter"/>
<rect x="96" y="208" width="8" height="8" fill="rgb(255,236,247)" style="mix-blend-mode:multiply"/>
<rect x="104" y="208" width="8" height="8" fill="rgb(9,0,0)" style="mix-blend-mode:plus-lighter"/>
<rect x="104" y="208" width="8" height="8" fill="rgb(255,250,253)" style="mix-blend-mode:multiply"/>
<rect x="104" y="216" width="8" height="8" fill="rgb(25,0,0)" style="mix-blend-mode:plus-lighter"/>
<rect x="104" y="216" width="8" height="8" fill="rgb(255,241,249)" style="mix-blend-mode:multiply"/>
<rect x="112" y="216" width="8" height="8" fill="rgb(35,0,0)" style="mix-blend-mode:plus-lighter"/>
<rect x="112" y="216" width="8" height="8" fill="rgb(255,236,247)" style="mix-blend-mode:multiply"/>
<rect x="120" y="216" width="8" height="8" fill="rgb(29,0,0)" style="mix-blend-mode:plus-lighter"/>
<rect x="120" y="216" width="8" height="8" fill="rgb(255,239,248)" style="mix-blend-mode:multiply"/>
<rect x="120" y="224" width="8" height="8" fill="rgb(6,0,0)" style="mix-blend-mode:plus-lighter"/>
<rect x="120" y="224" width="8" height="8" fill="rgb(255,251,253)" style="mix-blend-mode:multiply"/>
<rect x="128" y="224" width="8" height="8" fill="rgb(35,0,0)" style="mix-blend-mode:plus-lighter"/>
<rect x="128" y="224" width="8" height="8" fill="rgb(255,235,247)" style="mix-blend-mode:multiply"/>
<rect x="136" y="224" width="8" height="8" fill="rgb(36,0,0)" style="mix-blend-mode:plus-lighter"/>
<rect x="136" y="224" width="8" height="8" fill="rgb(255,235,247)" style="mix-blend-mode:multiply"/>
<rect x="144" y="224" width="8" height="8" fill="rgb(4,0,0)" style="mix-blend-mode:plus-lighter"/>
<rect x="144" y="224" width="8" height="8" fill="rgb(255,253,254)" style="mix-blend-mode:multiply"/>
<rect x="144" y="232" width="8" height="8" fill="rgb(31,0,0)" style="mix-blend-mode:plus-lighter"/>
<rect x="144" y="232" width="8" height="8" fill="rgb(255,238,248)" style="mix-blend-mode:multiply"/>
<rect x="152" y="232" width="8" height="8" fill="rgb(36,0,0)" style="mix-blend-mode:plus-lighter"/>
<rect x="152" y="232" width="8" height="8" fill="rgb(255,235,246)" style="mix-blend-mode:multiply"/>
<rect x="160" y="232" width="8" height="8" fill="rgb(10,0,0)" style="mix-blend-mode:plus-lighter"/>
<rect x="160" y="232" width="8" height="8" fill="rgb(255,250,253)" style="mix-blend-mode:multiply"/>
<rect x="160" y="240" width="8" height="8" fill="rgb(27,0,0)" style="mix-blend-mode:plus-lighter"/>
<rect x="160" y="240" width="8" height="8" fill="rgb(255,240,249)" style="mix-blend-mode:multiply"/>
<rect x="168" y="240" width="8" height="8" fill="rgb(36,0,0)" style="mix-blend-mode:plus-lighter"/>
<rect x="168" y="240" width="8" height="8" fill="rgb(255,235,246)" style="mix-blend-mode:multiply"/>
<rect x="176" y="240" width="8" height="8" fill="rgb(10,0,0)" style="mix-blend-mode:plus-lighter"/>
<rect x="176" y="240" width="8" height="8" fill="rgb(255,250,253)" style="mix-blend-mode:multiply"/>
<rect x="176" y="248" width="8" height="8" fill="rgb(26,0,0)" style="mix-blend-mode:plus-lighter"/>
<rect x="176" y="248" width="8" height="8" fill="rgb(255,240,249)" style="mix-blend-mode:multiply"/>
<rect x="184" y="248" width="8" height="8" fill="rgb(36,0,0)" style="mix-blend-mode:plus-lighter"/>
<rect x="184" y="248" width="8" height="8" fill="rgb(255,235,246)" style="mix-blend-mode:multiply"/>
<rect x="192" y="248" width="8" height="8" fill="rgb(9,0,0)" style="mix-blend-mode:plus-lighter"/>
<rect x="192" y="248" width="8" height="8" fill="rgb(255,250,253)" style="mix-blend-mode:multiply"/>
<rect x="192" y="256" width="8" height="8" fill="rgb(28,0,0)" style="mix-blend-mode:plus-lighter"/>
<rect x="192" y="256" width="8" height="8" fill="rgb(255,240,248)" style="mix-blend-mode:multiply"/>
<rect x="200" y="256" width="8" height="8" fill="rgb(37,0,0)" style="mix-blend-mode:plus-lighter"/>
<rect x="200" y="256" width="8" height="8" fill="rgb(255,235,246)" style="mix-blend-mode:multiply"/>
<rect x="208" y="256" width="8" height="8" fill="rgb(7,0,0)" style="mix-blend-mode:plus-lighter"/>
<rect x="208" y="256" width="8" height="8" fill="rgb(255,251,253)" style="mix-blend-mode:multiply"/>
<rect x="208" y="264" width="8" height="8" fill="rgb(30,0,0)" style="mix-blend-mode:plus-lighter"/>
<rect x="208" y="264" width="8" height="8" fill="rgb(255,238,248)" style="mix-blend-mode:multiply"/>
<rect x="216" y="264" width="8" height="8" fill="rgb(22,0,0)" style="mix-blend-mode:plus-lighter"/>
<rect x="216" y="264" width="8" height="8" fill="rgb(255,243,250)" style="mix-blend-mode:multiply"/>
</g>
<polyline points="27.77,232.45 28.74,229.06 29.71,226.22 30.68,223.81 31.65,221.73 32.62,219.91 33.59,218.32 34.56,216.90 35.53,215.64 36.50,214.52 37.47,213.51 38.44,212.60 39.41,211.79 40.38,211.05 41.35,210.38 42.32,209.78 43.29,209.24 44.26,208.75 45.23,208.31 46.20,207.91 47.17,207.56 48.14,207.24 49.11,206.96 50.08,206.71 51.05,206.49 52.02,206.30 52.99,206.14 53.96,206.00 54.94,205.88 55.91,205.79 56.88,205.71 57.85,205.66 58.82,205.63 59.79,205.61 60.76,205.61 61.73,205.62 62.70,205.66 63.67,205.70 64.64,205.76 65.61,205.83 66.58,205.92 67.55,206.01 68.52,206.12 69.49,206.24 70.46,206.37 71.43,206.51 72.40,206.66 73.37,206.82 74.34,206.99 75.31,207.16 76.28,207.35 77.25,207.54 78.22,207.74 79.19,207.95 80.16,208.17 81.13,208.39 82.10,208.62 83.07,208.86 84.04,209.10 85.01,209.35 85.98,209.60 86.95,209.86 87.92,210.13 88.90,210.40 89.87,210.68 90.84,210.96 91.81,211.25 92.78,211.54 93.75,211.84 94.72,212.14 95.69,212.45 96.66,212.76 97.63,213.07 98.60,213.39 99.57,213.71 100.54,214.04 101.51,214.37 102.48,214.71 103.45,215.04 104.42,215.38 105.39,215.73 106.36,216.08 107.33,216.43 108.30,216.79 109.27,217.14 110.24,217.51 111.21,217.87 112.18,218.24 113.15,218.61 114.12,218.98 115.09,219.36 116.06,219.74 117.03,220.12 118.00,220.50 118.97,220.89 119.94,221.28 120.91,221.67 121.88,222.06 122.86,222.46 123.83,222.86 124.80,223.26 125.77,223.66 126.74,224.07 127.71,224.48 128.68,224.89 129.65,225.30 130.62,225.71 131.59,226.13 132.56,226.55 133.53,226.97 134.50,227.39 135.47,227.81 136.44,228.24 137.41,228.67 138.38,229.10 139.35,229.53 140.32,229.96 141.29,230.39 142.26,230.83 143.23,231.27 144.20,231.71 145.17,232.15 146.14,232.59 147.11,233.03 148.08,233.48 149.05,233.93 150.02,234.37 150.99,234.82 151.96,235.28 152.93,235.73 153.90,236.18 154.87,236.64 155.84,237.09 156.82,237.55 157.79,238.01 158.76,238.47 159.73,238.94 160.70,239.40 161.67,239.86 162.64,240.33 163.61,240.80 164.58,241.26 165.55,241.73 166.52,242.20 167.49,242.67 168.46,243.15 169.43,243.62 170.40,244.10 171.37,244.57 172.34,245.05 173.31,245.53 174.28,246.01 175.25,246.49 176.22,246.97 177.19,247.45 178.16,247.93 179.13,248.42 180.10,248.90 181.07,249.39 182.04,249.87 183.01,250.36 183.98,250.85 184.95,251.34 185.92,251.83 186.89,252.32 187.86,252.81 188.83,253.31 189.80,253.80 190.78,254.30 191.75,254.79 192.72,255.29 193.69,255.79 194.66,256.28 195.63,256.78 196.60,257.28 197.57,257.78 198.54,258.28 199.51,258.79 200.48,259.29 201.45,259.79 202.42,260.30 203.39,260.80 204.36,261.31 205.33,261.81 206.30,262.32 207.27,262.83 208.24,263.34 209.21,263.85 210.18,264.36 211.15,264.87 212.12,265.38 213.09,265.89 214.06,266.40 215.03,266.92 216.00,267.43 216.97,267.94 217.94,268.46 218.91,268.97 219.88,269.49 220.85,270.01" fill="none" stroke="#653010" stroke-width="1.35" stroke-linejoin="round" stroke-linecap="butt"/>
<rect x="16.30" y="199.60" width="252.50" height="131.00" fill="none" stroke="#000" stroke-width="0.46"/>
<line x1="27.8" y1="330.60" x2="250.2" y2="330.60" stroke="#a5d596" stroke-width="0.9"/>
<line x1="22.20" y1="330.60" x2="22.20" y2="332.30" stroke="#000" stroke-width="0.46"/>
<text x="22.20" y="337.60" font-size="4.8" text-anchor="middle" font-family="DejaVu Sans, Liberation Sans, sans-serif">0.00</text>
<line x1="51.50" y1="330.60" x2="51.50" y2="332.30" stroke="#000" stroke-width="0.46"/>
<text x="51.50" y="337.60" font-size="4.8" text-anchor="middle" font-family="DejaVu Sans, Liberation Sans, sans-serif">0.02</text>
<line x1="80.80" y1="330.60" x2="80.80" y2="332.30" stroke="#000" stroke-width="0.46"/>
<text x="80.80" y="337.60" font-size="4.8" text-anchor="middle" font-family="DejaVu Sans, Liberation Sans, sans-serif">0.04</text>
<line x1="110.10" y1="330.60" x2="110.10" y2="332.30" stroke="#000" stroke-width="0.46"/>
<text x="110.10" y="337.60" font-size="4.8" text-anchor="middle" font-family="DejaVu Sans, Liberation Sans, sans-serif">0.06</text>
<line x1="139.40" y1="330.60" x2="139.40" y2="332.30" stroke="#000" stroke-width="0.46"/>
<text x="139.40" y="337.60" font-size="4.8" text-anchor="middle" font-family="DejaVu Sans, Liberation Sans, sans-serif">0.08</text>
<line x1="168.70" y1="330.60" x2="168.70" y2="332.30" stroke="#000" stroke-width="0.46"/>
<text x="168.70" y="337.60" font-size="4.8" text-anchor="middle" font-family="DejaVu Sans, Liberation Sans, sans-serif">0.10</text>
<line x1="198.00" y1="330.60" x2="198.00" y2="332.30" stroke="#000" stroke-width="0.46"/>
<text x="198.00" y="337.60" font-size="4.8" text-anchor="middle" font-family="DejaVu Sans, Liberation Sans, sans-serif">0.12</text>
<line x1="227.30" y1="330.60" x2="227.30" y2="332.30" stroke="#000" stroke-width="0.46"/>
<text x="227.30" y="337.60" font-size="4.8" text-anchor="middle" font-family="DejaVu Sans, Liberation Sans, sans-serif">0.14</text>
<line x1="256.60" y1="330.60" x2="256.60" y2="332.30" stroke="#000" stroke-width="0.46"/>
<text x="256.60" y="337.60" font-size="4.8" text-anchor="middle" font-family="DejaVu Sans, Liberation Sans, sans-serif">0.16</text>
<line x1="14.60" y1="215.50" x2="16.30" y2="215.50" stroke="#000" stroke-width="0.46"/>
<text x="12.90" y="217.40" font-size="4.8" text-anchor="end" font-family="DejaVu Sans, Liberation Sans, sans-serif">10<tspan font-size="3.36" dy="-1.9">1</tspan></text>
<line x1="14.60" y1="252.80" x2="16.30" y2="252.80" stroke="#000" stroke-width="0.46"/>
<text x="12.90" y="254.70" font-size="4.8" text-anchor="end" font-family="DejaVu Sans, Liberation Sans, sans-serif">10<tspan font-size="3.36" dy="-1.9">0</tspan></text>
<line x1="14.60" y1="290.10" x2="16.30" y2="290.10" stroke="#000" stroke-width="0.46"/>
<text x="12.90" y="292.00" font-size="4.8" text-anchor="end" font-family="DejaVu Sans, Liberation Sans, sans-serif">10<tspan font-size="3.36" dy="-1.9">−1</tspan></text>
<line x1="14.60" y1="327.40" x2="16.30" y2="327.40" stroke="#000" stroke-width="0.46"/>
<text x="12.90" y="329.30" font-size="4.8" text-anchor="end" font-family="DejaVu Sans, Liberation Sans, sans-serif">10<tspan font-size="3.36" dy="-1.9">−2</tspan></text>
<line x1="15.35" y1="329.11" x2="16.30" y2="329.11" stroke="#000" stroke-width="0.3"/>
<line x1="15.35" y1="316.17" x2="16.30" y2="316.17" stroke="#000" stroke-width="0.3"/>
<line x1="15.35" y1="309.60" x2="16.30" y2="309.60" stroke="#000" stroke-width="0.3"/>
<line x1="15.35" y1="304.94" x2="16.30" y2="304.94" stroke="#000" stroke-width="0.3"/>
<line x1="15.35" y1="301.33" x2="16.30" y2="301.33" stroke="#000" stroke-width="0.3"/>
<line x1="15.35" y1="298.37" x2="16.30" y2="298.37" stroke="#000" stroke-width="0.3"/>
<line x1="15.35" y1="295.88" x2="16.30" y2="295.88" stroke="#000" stroke-width="0.3"/>
<line x1="15.35" y1="293.71" x2="16.30" y2="293.71" stroke="#000" stroke-width="0.3"/>
<line x1="15.35" y1="291.81" x2="16.30" y2="291.81" stroke="#000" stroke-width="0.3"/>
<line x1="15.35" y1="278.87" x2="16.30" y2="278.87" stroke="#000" stroke-width="0.3"/>
<line x1="15.35" y1="272.30" x2="16.30" y2="272.30" stroke="#000" stroke-width="0.3"/>
<line x1="15.35" y1="267.64" x2="16.30" y2="267.64" stroke="#000" stroke-width="0.3"/>
<line x1="15.35" y1="264.03" x2="16.30" y2="264.03" stroke="#000" stroke-width="0.3"/>
<line x1="15.35" y1="261.07" x2="16.30" y2="261.07" stroke="#000" stroke-width="0.3"/>
<line x1="15.35" y1="258.58" x2="16.30" y2="258.58" stroke="#000" stroke-width="0.3"/>
<line x1="15.35" y1="256.41" x2="16.30" y2="256.41" stroke="#000" stroke-width="0.3"/>
<line x1="15.35" y1="254.51" x2="16.30" y2="254.51" stroke="#000" stroke-width="0.3"/>
<line x1="15.35" y1="241.57" x2="16.30" y2="241.57" stroke="#000" stroke-width="0.3"/>
<line x1="15.35" y1="235.00" x2="16.30" y2="235.00" stroke="#000" stroke-width="0.3"/>
<line x1="15.35" y1="230.34" x2="16.30" y2="230.34" stroke="#000" stroke-width="0.3"/>
<line x1="15.35" y1="226.73" x2="16.30" y2="226.73" stroke="#000" stroke-width="0.3"/>
<line x1="15.35" y1="223.77" x2="16.30" y2="223.77" stroke="#000" stroke-width="0.3"/>
<line x1="15.35" y1="221.28" x2="16.30" y2="221.28" stroke="#000" stroke-width="0.3"/>
<line x1="15.35" y1="219.11" x2="16.30" y2="219.11" stroke="#000" stroke-width="0.3"/>
<line x1="15.35" y1="217.21" x2="16.30" y2="217.21" stroke="#000" stroke-width="0.3"/>
<line x1="15.35" y1="204.27" x2="16.30" y2="204.27" stroke="#000" stroke-width="0.3"/>
<text x="142.55" y="196.70" font-size="5.75" text-anchor="middle" font-family="DejaVu Sans, Liberation Sans, sans-serif">Histogram (log scale)</text>
</g>
<g id="ax4">
<rect x="333.59" y="255.58" width="47.81" height="19.65" fill="none" stroke="#000" stroke-width="0.5"/>
<line x1="355.21" y1="255.58" x2="355.21" y2="275.23" stroke="#e39a1e" stroke-width="0.6"/>
<line x1="305.78" y1="265.40" x2="333.59" y2="265.40" stroke="#000" stroke-width="0.5"/>
<line x1="381.39" y1="265.40" x2="453.33" y2="265.40" stroke="#000" stroke-width="0.5"/>
<line x1="305.78" y1="260.49" x2="305.78" y2="270.31" stroke="#000" stroke-width="0.5"/>
<line x1="453.33" y1="260.49" x2="453.33" y2="270.31" stroke="#000" stroke-width="0.5"/>
<line x1="454.53" y1="265.40" x2="527.00" y2="265.40" stroke="#000" stroke-width="3.6" stroke-linecap="round"/>
<circle cx="528.35" cy="265.40" r="1.45" fill="none" stroke="#000" stroke-width="0.5"/>
<circle cx="529.67" cy="265.40" r="1.45" fill="none" stroke="#000" stroke-width="0.5"/>
<circle cx="531.58" cy="265.40" r="1.45" fill="none" stroke="#000" stroke-width="0.5"/>
<circle cx="533.79" cy="265.40" r="1.45" fill="none" stroke="#000" stroke-width="0.5"/>
<circle cx="535.26" cy="265.40" r="1.45" fill="none" stroke="#000" stroke-width="0.5"/>
<rect x="294.80" y="199.60" width="251.90" height="131.00" fill="none" stroke="#000" stroke-width="0.46"/>
<line x1="299.90" y1="330.60" x2="299.90" y2="332.30" stroke="#000" stroke-width="0.46"/>
<text x="299.90" y="337.60" font-size="4.8" text-anchor="middle" font-family="DejaVu Sans, Liberation Sans, sans-serif">0.00</text>
<line x1="329.32" y1="330.60" x2="329.32" y2="332.30" stroke="#000" stroke-width="0.46"/>
<text x="329.32" y="337.60" font-size="4.8" text-anchor="middle" font-family="DejaVu Sans, Liberation Sans, sans-serif">0.02</text>
<line x1="358.74" y1="330.60" x2="358.74" y2="332.30" stroke="#000" stroke-width="0.46"/>
<text x="358.74" y="337.60" font-size="4.8" text-anchor="middle" font-family="DejaVu Sans, Liberation Sans, sans-serif">0.04</text>
<line x1="388.16" y1="330.60" x2="388.16" y2="332.30" stroke="#000" stroke-width="0.46"/>
<text x="388.16" y="337.60" font-size="4.8" text-anchor="middle" font-family="DejaVu Sans, Liberation Sans, sans-serif">0.06</text>
<line x1="417.58" y1="330.60" x2="417.58" y2="332.30" stroke="#000" stroke-width="0.46"/>
<text x="417.58" y="337.60" font-size="4.8" text-anchor="middle" font-family="DejaVu Sans, Liberation Sans, sans-serif">0.08</text>
<line x1="447.00" y1="330.60" x2="447.00" y2="332.30" stroke="#000" stroke-width="0.46"/>
<text x="447.00" y="337.60" font-size="4.8" text-anchor="middle" font-family="DejaVu Sans, Liberation Sans, sans-serif">0.10</text>
<line x1="476.42" y1="330.60" x2="476.42" y2="332.30" stroke="#000" stroke-width="0.46"/>
<text x="476.42" y="337.60" font-size="4.8" text-anchor="middle" font-family="DejaVu Sans, Liberation Sans, sans-serif">0.12</text>
<line x1="505.84" y1="330.60" x2="505.84" y2="332.30" stroke="#000" stroke-width="0.46"/>
<text x="505.84" y="337.60" font-size="4.8" text-anchor="middle" font-family="DejaVu Sans, Liberation Sans, sans-serif">0.14</text>
<line x1="535.26" y1="330.60" x2="535.26" y2="332.30" stroke="#000" stroke-width="0.46"/>
<text x="535.26" y="337.60" font-size="4.8" text-anchor="middle" font-family="DejaVu Sans, Liberation Sans, sans-serif">0.16</text>
<line x1="293.10" y1="265.40" x2="294.80" y2="265.40" stroke="#000" stroke-width="0.46"/>
<text x="291.40" y="267.15" font-size="4.8" text-anchor="end" font-family="DejaVu Sans, Liberation Sans, sans-serif">1</text>
<text x="420.75" y="196.70" font-size="5.75" text-anchor="middle" font-family="DejaVu Sans, Liberation Sans, sans-serif">Boxplot</text>
</g>
<g id="artefacts">
<g style="mix-blend-mode:multiply">
<rect x="16" y="80" width="8" height="7" fill="#c9f8fc"/>
<rect x="0" y="96" width="8" height="8" fill="#c9f8fc"/>
<rect x="16" y="96" width="8" height="8" fill="#c9f8fc"/>
<rect x="16" y="112" width="8" height="8" fill="#c9f8fc"/>
<rect x="16" y="128" width="8" height="8" fill="#c9f8fc"/>
<rect x="8" y="144" width="16" height="8" fill="#c9f8fc"/>
<rect x="8" y="160" width="8" height="8" fill="#c9f8fc"/>
<rect x="143" y="80.5" width="16" height="6.5" fill="#e6fbff"/>
<rect x="135" y="96" width="16" height="7" fill="#e6fbff"/>
<rect x="209" y="88" width="6" height="7" fill="#e6fbff"/>
<rect x="185" y="104" width="22.6" height="8" fill="#e6fbff"/>
<rect x="164" y="120" width="20" height="7.4" fill="#e6fbff"/>
<rect x="143" y="136" width="16" height="7.7" fill="#e6fbff"/>
<rect x="256" y="120" width="7" height="8" fill="#e6fbff"/>
<rect x="243" y="136" width="13" height="8" fill="#e6fbff"/>
<rect x="235" y="152" width="11" height="8" fill="#e6fbff"/>
<rect x="264" y="104" width="5" height="8" fill="#e6fbff"/>
<rect x="224" y="168" width="8" height="5" fill="#e6fbff"/>
<rect x="274" y="106" width="4" height="5" fill="#e6fbff"/>
</g>
<g stroke="#ff50d8" stroke-width="0.8" stroke-opacity="0.85" fill="none">
<line x1="16.1" y1="86.7" x2="25.3" y2="86.7"/>
<line x1="16.1" y1="112.3" x2="23.2" y2="119.3"/>
<line x1="14.7" y1="127.8" x2="19.6" y2="135.5"/>
<line x1="11.9" y1="144.6" x2="16.8" y2="151.7"/>
<line x1="8.7" y1="160.1" x2="14" y2="167.1"/>
<line x1="143.2" y1="87.1" x2="153.7" y2="87.1"/>
<line x1="135" y1="96.3" x2="144.5" y2="96.3"/>
<line x1="190" y1="111.6" x2="205" y2="104.2"/>
<line x1="166.8" y1="126.6" x2="181.3" y2="120"/>
<line x1="144.5" y1="142.4" x2="157.6" y2="135.8"/>
<line x1="118.5" y1="159.6" x2="134.9" y2="152"/>
<line x1="103.3" y1="171.1" x2="110.9" y2="168.1"/>
<line x1="259.5" y1="126.6" x2="261.6" y2="120"/>
<line x1="249" y1="143.2" x2="251.6" y2="135.8"/>
<line x1="239" y1="159" x2="241.5" y2="152"/>
<line x1="229.2" y1="174.2" x2="231.3" y2="168.1"/>
<line x1="270" y1="110" x2="274" y2="105"/>
<line x1="213.2" y1="95" x2="214.2" y2="95"/>
<path d="M2.1,103.2 Q5,96.3 8.4,96.1 L16.8,96.1 Q21.5,96.5 25.3,103.2"/>
</g>
</g>
</svg>
</body></html>
